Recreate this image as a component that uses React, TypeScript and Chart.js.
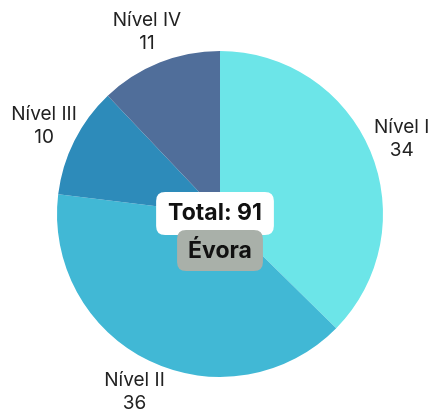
import React, { useEffect, useRef } from "react";
import { Chart, registerables } from "chart.js";

Chart.register(...registerables);

const categories = ["Nível I", "Nível II", "Nível III", "Nível IV"];
const values = [34, 36, 10, 11];
const colors = ["#6ce5e8", "#41b8d5", "#2d8bba", "#506e9a"];
const totalLabel = "Total: 91";
const regionLabel = "Évora";

const FONT = "Inter, 'Noto Sans', sans-serif";

function roundRect(ctx: CanvasRenderingContext2D, x: number, y: number, w: number, h: number, r: number) {
  ctx.beginPath();
  ctx.moveTo(x + r, y);
  ctx.lineTo(x + w - r, y);
  ctx.quadraticCurveTo(x + w, y, x + w, y + r);
  ctx.lineTo(x + w, y + h - r);
  ctx.quadraticCurveTo(x + w, y + h, x + w - r, y + h);
  ctx.lineTo(x + r, y + h);
  ctx.quadraticCurveTo(x, y + h, x, y + h - r);
  ctx.lineTo(x, y + r);
  ctx.quadraticCurveTo(x, y, x + r, y);
  ctx.closePath();
}

const labelPlugin = {
  id: "outerLabels",
  afterDraw(chart: any) {
    const ctx = chart.ctx as CanvasRenderingContext2D;
    const meta = chart.getDatasetMeta(0);
    ctx.save();
    ctx.fillStyle = "#222";
    ctx.font = `400 19px ${FONT}`;
    ctx.textAlign = "center";
    ctx.textBaseline = "middle";
    meta.data.forEach((arc: any, i: number) => {
      const mid = (arc.startAngle + arc.endAngle) / 2;
      const r = arc.outerRadius + 34;
      const x = arc.x + Math.cos(mid) * r;
      const y = arc.y + Math.sin(mid) * r;
      ctx.fillText(categories[i], x, y - 11);
      ctx.fillText(String(values[i]), x, y + 12);
    });
    const cx = meta.data[0].x;
    const cy = meta.data[0].y;
    // total box
    ctx.font = `700 23px ${FONT}`;
    const tw = ctx.measureText(totalLabel).width;
    const bw = tw + 24;
    const bh = 43;
    ctx.fillStyle = "#ffffff";
    roundRect(ctx, cx - 5 - bw / 2, cy - 22, bw, bh, 9);
    ctx.fill();
    ctx.fillStyle = "#111";
    ctx.fillText(totalLabel, cx - 5, cy - 1);
    // region box
    const rw = ctx.measureText(regionLabel).width + 22;
    const rh = 41;
    ctx.fillStyle = "#a9b0a9";
    roundRect(ctx, cx - rw / 2, cy + 16, rw, rh, 9);
    ctx.fill();
    ctx.fillStyle = "#111";
    ctx.fillText(regionLabel, cx, cy + 37);
    ctx.restore();
  },
};

export default function App() {
  const ref = useRef<HTMLCanvasElement>(null);
  useEffect(() => {
    document.body.style.margin = "0";
    const chart = new Chart(ref.current!, {
      type: "pie",
      data: {
        labels: categories,
        datasets: [
          {
            data: values,
            backgroundColor: colors,
            borderWidth: 0,
          },
        ],
      },
      options: {
        animation: false,
        responsive: false,
        layout: { padding: { left: 57, right: 47, top: 51, bottom: 39 } },
        plugins: { legend: { display: false }, tooltip: { enabled: false } },
      },
      plugins: [labelPlugin],
    });
    return () => chart.destroy();
  }, []);
  return (
    <div style={{ width: 430, height: 416 }}>
      <canvas ref={ref} width={430} height={416} style={{ width: 430, height: 416 }} />
    </div>
  );
}
